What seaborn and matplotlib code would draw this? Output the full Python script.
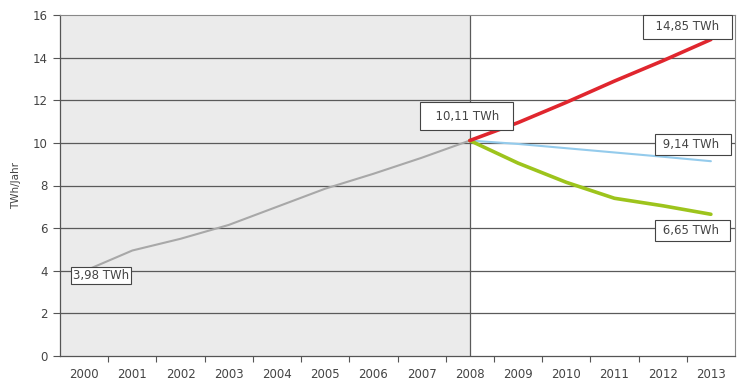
import numpy as np
import pandas as pd
import matplotlib
matplotlib.use('Agg')
import matplotlib.pyplot as plt
import seaborn as sns

# Values (TWh per year)
years_hist = [2000, 2001, 2002, 2003, 2004, 2005, 2006, 2007, 2008]
hist = [3.98, 4.95, 5.5, 6.15, 7.0, 7.85, 8.55, 9.3, 10.11]

years_proj = [2008, 2009, 2010, 2011, 2012, 2013]
high = [10.11, 10.95, 11.9, 12.9, 13.85, 14.85]
mid = [10.11, 9.95, 9.75, 9.55, 9.35, 9.14]
low = [10.11, 9.05, 8.15, 7.4, 7.05, 6.65]

all_years = list(range(2000, 2014))

# Long table for seaborn
df = pd.concat([
    pd.DataFrame({'year': years_hist, 'twh': hist, 'series': 'hist'}),
    pd.DataFrame({'year': years_proj, 'twh': high, 'series': 'high'}),
    pd.DataFrame({'year': years_proj, 'twh': mid, 'series': 'mid'}),
    pd.DataFrame({'year': years_proj, 'twh': low, 'series': 'low'}),
], ignore_index=True)

colors = {'hist': '#a8a8a8', 'high': '#e0262e', 'mid': '#94cbec', 'low': '#9dc41c'}
widths = {'hist': 1.5, 'high': 2.6, 'mid': 1.5, 'low': 2.6}

sns.set_style('white', {'ytick.left': True, 'xtick.bottom': True})
plt.rcParams['font.family'] = ['DejaVu Sans']
plt.rcParams['ytick.major.size'] = 5
plt.rcParams['ytick.major.width'] = 0.8

fig = plt.figure(figsize=(7.41, 3.90), dpi=100)
ax = fig.add_axes([60 / 741, 34 / 390, 675 / 741, 341 / 390])

# grey shaded history area
ax.axvspan(1999.5, 2008, color='#ebebeb', zorder=0, lw=0)

for y in range(2, 16, 2):
    ax.axhline(y, color='#5a5a5a', lw=0.9, zorder=1)
ax.axvline(2008, color='#5a5a5a', lw=0.9, zorder=1)

for name in ['hist', 'mid', 'low', 'high']:
    sub = df[df['series'] == name]
    sns.lineplot(data=sub, x='year', y='twh', ax=ax, color=colors[name],
                 lw=widths[name], zorder=3, legend=False)

ax.set_xlim(1999.5, 2013.5)
ax.set_ylim(0, 16)
ax.set_yticks(range(0, 17, 2))
ax.set_xticks(all_years)
ax.set_xticklabels([str(y) for y in all_years])
ax.set_xticks(np.arange(2000.5, 2013.5, 1), minor=True)
ax.tick_params(axis='x', which='major', bottom=False, length=0, pad=9, labelsize=8.5,
               colors='#444444')
ax.tick_params(axis='x', which='minor', bottom=True, length=4, color='#555555', width=0.8,
               direction='out')
ax.yaxis.set_tick_params(which='major', left=True, length=5, width=0.8, color='#555555',
                         labelsize=8.5, labelcolor='#444444', pad=4, direction='out')
ax.set_xlabel('')
ax.set_ylabel('TWh/Jahr', fontsize=7.5, color='#444444', labelpad=8)

for side in ['left', 'bottom']:
    ax.spines[side].set_color('#555555')
    ax.spines[side].set_linewidth(0.9)
for side in ['top', 'right']:
    ax.spines[side].set_color('#888888')
    ax.spines[side].set_linewidth(0.8)

labels = [
    ('  14,85 TWh  ', 2012.52, 15.44, 0.45),
    ('  10,11 TWh  ', 2007.94, 11.26, 0.6),
    (' 9,14 TWh  ', 2012.62, 9.93, 0.35),
    (' 6,65 TWh  ', 2012.62, 5.89, 0.35),
    ('3,98 TWh', 2000.35, 3.78, 0.2),
]
for txt, x, y, pad in labels:
    box = dict(boxstyle='square,pad=%s' % pad, fc='white', ec='#444444', lw=0.8)
    ax.text(x, y, txt, ha='center', va='center', fontsize=8.5, color='#444444',
            bbox=box, zorder=5)

fig.savefig('out.png', dpi=100)
